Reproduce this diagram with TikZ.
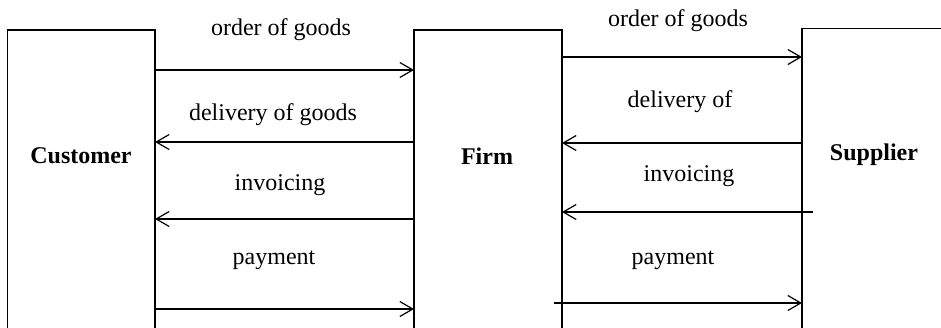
\documentclass[tikz,border=0pt]{standalone}
\usepackage{fontspec}
\setmainfont{Liberation Serif}
\usetikzlibrary{arrows.meta}
\tikzset{
  actor/.style={draw, line width=0.6pt, inner sep=0pt, outer sep=0pt, minimum height=165pt},
  actorname/.style={font=\fontsize{12}{14}\selectfont\bfseries},
  flowtext/.style={font=\fontsize{12}{14}\selectfont},
  flow/.style={-{Straight Barb[length=6.5pt, width=7.5pt, line width=0.6pt]}, line width=0.6pt}
}
\begin{document}
\begin{tikzpicture}[x=0.5pt, y=-0.5pt]
        \path[use as bounding box, clip] (0,0) rectangle (941,327);
        \node[actor, minimum width=73.75pt] (cust) at (81.25,195) {};
        \node[actor, minimum width=74pt] (firm) at (488,195) {};
        \node[actor, minimum width=99pt, minimum height=165.65pt] (supp) at (901,194.35) {};
        \node[actorname] (custname) at (81,156) {Customer};
        \node[actorname] (firmname) at (487,156) {Firm};
        \node[actorname] (suppname) at (874,155) {Supplier};
        \node[flowtext] (order1) at (281,30) {order of goods};
        \node[flowtext] (deliv1) at (273,115) {delivery of goods};
        \node[flowtext] (invoi1) at (280,185) {invoicing};
        \node[flowtext] (paym1) at (274,260) {payment};
        \node[flowtext] (order2) at (678,21) {order of goods};
        \node[flowtext] (deliv2) at (680,102) {delivery of};
        \node[flowtext] (invoi2) at (689,176) {invoicing};
        \node[flowtext] (paym2) at (673,260) {payment};
        \coordinate (invstart) at (813,212);
        \coordinate (paystart) at (554,303);
        \draw[flow] (cust.east |- 0,70) -- (firm.west |- 0,70);
        \draw[flow] (firm.west |- 0,142) -- (cust.east |- 0,142);
        \draw[flow] (firm.west |- 0,219) -- (cust.east |- 0,219);
        \draw[flow] (cust.east |- 0,309) -- (firm.west |- 0,309);
        \draw[flow] (firm.east |- 0,57) -- (supp.west |- 0,57);
        \draw[flow] (supp.west |- 0,143) -- (firm.east |- 0,143);
        \draw[flow] (invstart) -- (firm.east |- invstart);
        \draw[flow] (paystart) -- (supp.west |- paystart);
\end{tikzpicture}
\end{document}
